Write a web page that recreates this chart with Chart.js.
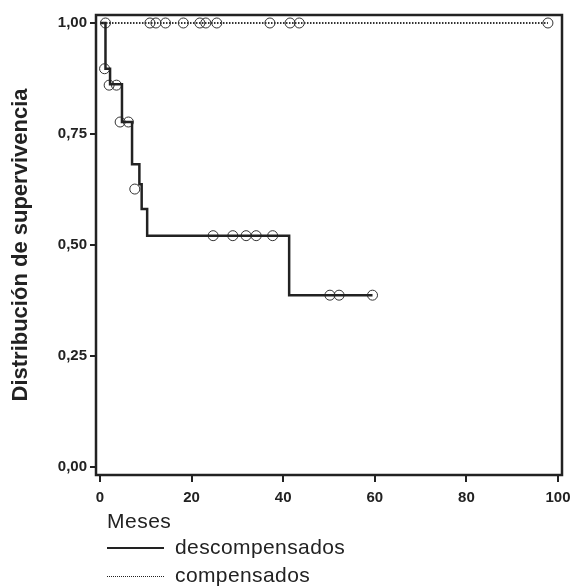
<!DOCTYPE html>
<html lang="es">
<head>
  <meta charset="UTF-8">
  <title>Distribución de supervivencia</title>
  <script src="https://cdn.jsdelivr.net/npm/chart.js"></script>
  <style>
    body {
      margin: 0;
      background: #fff;
      font-family: "Liberation Sans", Arial, sans-serif;
      color: #222;
    }
    .wrap {
      position: relative;
      width: 573px;
      height: 587px;
    }
    .txt {
      position: absolute;
      font-size: 21px;
      line-height: 21px;
      white-space: nowrap;
    }
    .sample {
      position: absolute;
      left: 107px;
      width: 57px;
      height: 0;
    }
  </style>
</head>
<body>
  <div class="wrap">
    <canvas id="km" width="573" height="587"></canvas>
    <div class="txt" style="left:107px; top:510px; letter-spacing:0.5px;">Meses</div>
    <div class="sample" style="top:547px; border-top:2px solid #222;"></div>
    <div class="txt" style="left:175px; top:536px; letter-spacing:0.4px;">descompensados</div>
    <div class="sample" style="top:576px; border-top:1px dotted #222;"></div>
    <div class="txt" style="left:175px; top:564px; letter-spacing:0.4px;">compensados</div>
  </div>

  <script>
    // step curve: time of each event and survival after it
    const descTimes = [0, 1.2, 2.2, 4.8, 7.0, 8.6, 9.1, 10.3, 41.3, 59.5];
    const descSurv = [1.0, 0.897, 0.862, 0.777, 0.682, 0.637, 0.581, 0.521, 0.387, 0.387];
    const compTimes = [0, 97.8];
    const compSurv = [1.0, 1.0];

    // censored cases (circles)
    const descCensT = [1.0, 2.0, 3.6, 4.4, 6.2, 7.6, 24.7, 29.0, 31.9, 34.1, 37.7, 50.2, 52.2, 59.5];
    const descCensS = [0.897, 0.86, 0.86, 0.777, 0.777, 0.626, 0.521, 0.521, 0.521, 0.521, 0.521, 0.387, 0.387, 0.387];
    const compCensT = [1.2, 10.9, 12.2, 14.3, 18.2, 21.8, 23.1, 25.5, 37.1, 41.5, 43.5, 97.8];
    const compCensS = [1, 1, 1, 1, 1, 1, 1, 1, 1, 1, 1, 1];

    const xTicks = [0, 20, 40, 60, 80, 100];
    const yTicks = [0, 0.25, 0.5, 0.75, 1];
    const yTickLabels = ['0,00', '0,25', '0,50', '0,75', '1,00'];

    const pts = (xs, ys) => xs.map((x, i) => ({ x: x, y: ys[i] }));

    const circles = {
      showLine: false,
      pointStyle: 'circle',
      pointRadius: 5,
      pointBorderWidth: 1,
      pointBorderColor: '#333',
      pointBackgroundColor: 'rgba(0,0,0,0)'
    };

    // outer box round the plot
    const frame = {
      id: 'frame',
      beforeDatasetsDraw(chart) {
        const a = chart.chartArea;
        const ctx = chart.ctx;
        ctx.save();
        ctx.strokeStyle = '#222';
        ctx.lineWidth = 2.5;
        ctx.strokeRect(a.left, a.top, a.right - a.left, a.bottom - a.top);
        ctx.restore();
      }
    };

    const tickFont = { family: '"Liberation Sans", Arial, sans-serif', size: 15, weight: 'bold' };

    new Chart(document.getElementById('km'), {
      type: 'line',
      data: {
        datasets: [
          {
            label: 'compensados',
            data: pts(compTimes, compSurv),
            borderColor: '#333',
            borderWidth: 2,
            borderDash: [1.5, 1.5],
            pointRadius: 0
          },
          {
            label: 'descompensados',
            data: pts(descTimes, descSurv),
            borderColor: '#222',
            borderWidth: 2.5,
            stepped: 'before',
            pointRadius: 0
          },
          Object.assign({ label: 'desc. censurados', data: pts(descCensT, descCensS) }, circles),
          Object.assign({ label: 'comp. censurados', data: pts(compCensT, compCensS) }, circles)
        ]
      },
      options: {
        responsive: false,
        animation: false,
        layout: { padding: { left: 0, top: 15, right: 11, bottom: 77 } },
        plugins: {
          legend: { display: false },
          tooltip: { enabled: false }
        },
        scales: {
          x: {
            type: 'linear',
            min: -0.87,
            max: 100.87,
            afterBuildTicks: s => { s.ticks = xTicks.map(v => ({ value: v })); },
            afterFit: s => { s.height = 35; s.paddingLeft = 0; s.paddingRight = 0; },
            border: { display: false },
            grid: { drawOnChartArea: false, tickLength: 7, color: '#222', lineWidth: 2 },
            ticks: { font: tickFont, color: '#222', padding: 7, maxRotation: 0 }
          },
          y: {
            min: -0.018,
            max: 1.018,
            afterBuildTicks: s => { s.ticks = yTicks.map(v => ({ value: v })); },
            afterFit: s => { s.width = 96; s.paddingTop = 0; s.paddingBottom = 0; },
            border: { display: false },
            grid: { drawOnChartArea: false, tickLength: 6, color: '#222', lineWidth: 2 },
            ticks: {
              font: tickFont,
              color: '#222',
              padding: 3,
              callback: v => yTickLabels[yTicks.indexOf(v)]
            },
            title: {
              display: true,
              text: 'Distribución de supervivencia',
              color: '#222',
              font: { family: '"Liberation Sans", Arial, sans-serif', size: 22, weight: 'bold' },
              padding: { top: 8, bottom: 0 }
            }
          }
        }
      },
      plugins: [frame]
    });
  </script>
</body>
</html>
